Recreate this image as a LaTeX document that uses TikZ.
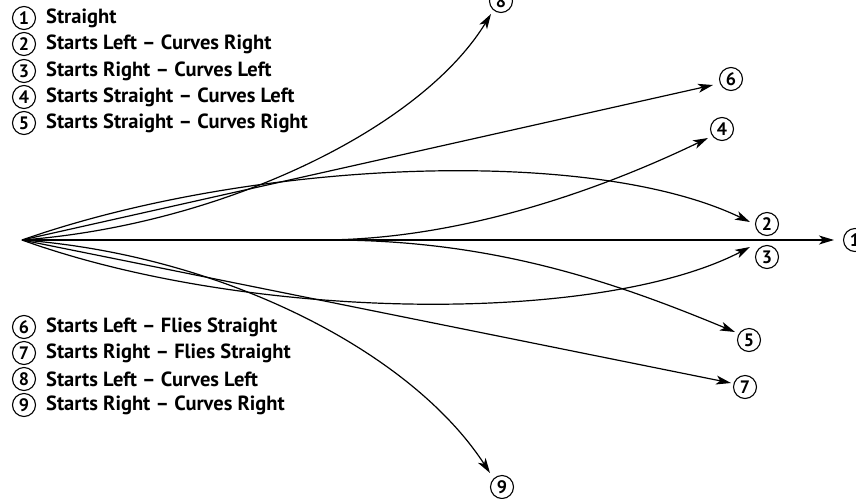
\documentclass[tikz,border=0pt]{standalone}
\usepackage{fontspec}
\setmainfont{PT Sans}
\usetikzlibrary{arrows.meta}
\begin{document}
\begin{tikzpicture}[x=1pt,y=-1pt,
  num/.style={circle,draw,line width=1.1pt,minimum size=23pt,inner sep=0pt,font=\bfseries\fontsize{18}{18}\selectfont},
  legtext/.style={anchor=west,inner sep=0pt,font=\bfseries\fontsize{20.5}{20.5}\selectfont},
  path/.style={line width=1.2pt,-{Stealth[length=15pt,width=9pt,inset=4pt]}},
  plain/.style={line width=1.2pt}]
\useasboundingbox (0,0) rectangle (856,498);
% legend
\foreach \n/\y/\t in {1/18/Straight,2/44/Starts Left – Curves Right,3/71/Starts Right – Curves Left,4/97/Starts Straight – Curves Left,5/123/Starts Straight – Curves Right,6/327/Starts Left – Flies Straight,7/353/Starts Right – Flies Straight,8/379/Starts Left – Curves Left,9/405/Starts Right – Curves Right}{
  \node[num] (l\n) at (24,\y) {\n};
  \node[legtext] (lt\n) at (46,\y) {\t};
}
% origin
\coordinate (O) at (22,240);
% end labels
\node[num] (e1) at (855,240) {1};
\node[num] (e2) at (767,224) {2};
\node[num] (e3) at (767,257) {3};
\node[num] (e4) at (722,129) {4};
\node[num] (e5) at (749,340) {5};
\node[num] (e6) at (731,79) {6};
\node[num] (e7) at (745,387) {7};
\node[num] (e8) at (501,1) {8};
\node[num] (e9) at (502,487) {9};
% tips
\coordinate (t1) at (834,240);
\coordinate (t2) at (750,222);
\coordinate (t3) at (750,247);
\coordinate (t4) at (708,138);
\coordinate (t5) at (735,332);
\coordinate (t6) at (713,85);
\coordinate (t7) at (731,383);
\coordinate (t8) at (491,14);
\coordinate (t9) at (490,473);
\coordinate (s4) at (320,240);
\coordinate (s5) at (330,240);
% paths
\draw[path] (O) -- (t1);
\draw[path] (O) .. controls (250,160) and (590,145) .. (t2);
\draw[path] (O) .. controls (250,322) and (600,325) .. (t3);
\draw[plain] (O) -- (s4);
\draw[path] (s4) .. controls (460,240) and (600,190) .. (t4);
\draw[path] (s5) .. controls (490,240) and (610,280) .. (t5);
\draw[path] (O) -- (t6);
\draw[path] (O) -- (t7);
\draw[path] (O) .. controls (220,225) and (420,130) .. (t8);
\draw[path] (O) .. controls (220,255) and (410,350) .. (t9);
\end{tikzpicture}
\end{document}
